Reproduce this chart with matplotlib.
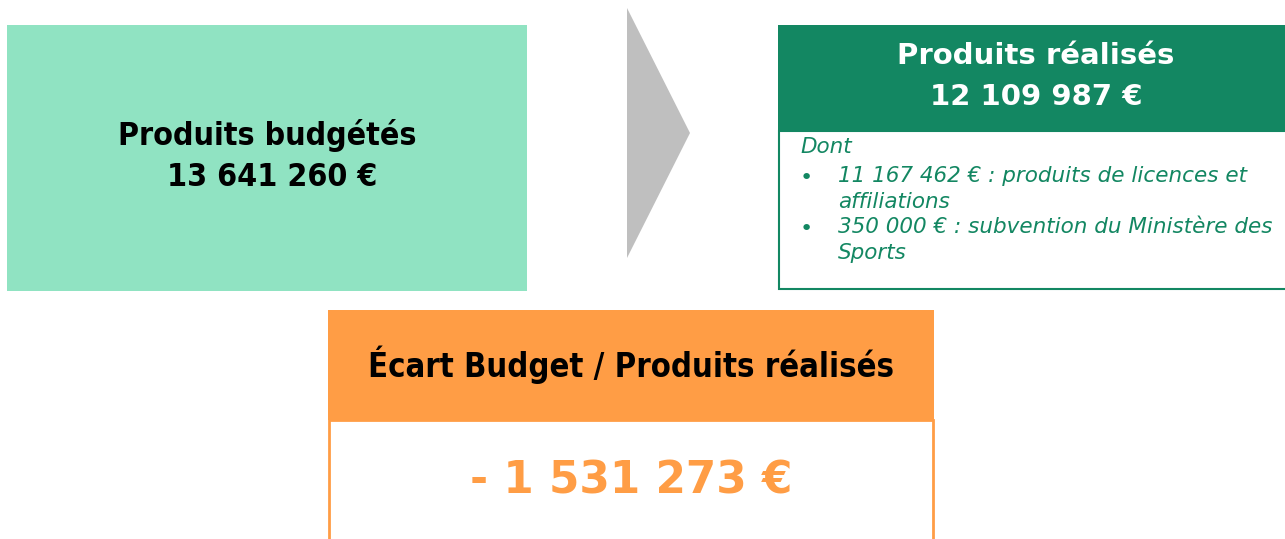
import matplotlib
matplotlib.use("Agg")
import matplotlib.pyplot as plt
from matplotlib.patches import Rectangle, Polygon

# texts / values
budget_label = "Produits budgétés"
budget_value = "13 641 260 €"
realise_label = "Produits réalisés"
realise_value = "12 109 987 €"
detail_intro = "Dont"
detail_items = ["11 167 462 € : produits de licences et\naffiliations",
                "350 000 € : subvention du Ministère des\nSports"]
ecart_label = "Écart Budget / Produits réalisés"
ecart_value = "- 1 531 273 €"

c_light = "#90E3C2"
c_green = "#138762"
c_orange = "#FF9D45"
c_grey = "#BFBFBF"

plt.rcParams['font.family'] = ['DejaVu Sans']

fig = plt.figure(figsize=(12.85, 5.39), dpi=100)
ax = fig.add_axes([0, 0, 1, 1])
ax.set_xlim(0, 1285)
ax.set_ylim(539, 0)
ax.axis("off")

# left box
ax.add_patch(Rectangle((7, 25), 520, 266, facecolor=c_light, edgecolor="none"))
ax.text(267, 136, budget_label, ha="center", va="center", fontsize=23, fontweight="bold",
        fontstretch="condensed")
ax.text(272, 178, budget_value, ha="center", va="center", fontsize=23, fontweight="bold",
        fontstretch="condensed")

# arrow
ax.add_patch(Polygon([(627, 8), (690, 133), (627, 258)], closed=True, facecolor=c_grey, edgecolor="none"))

# right box
ax.add_patch(Rectangle((779, 131), 520, 158, facecolor="white", edgecolor=c_green, linewidth=1.5))
ax.add_patch(Rectangle((778, 25), 520, 106, facecolor=c_green, edgecolor="none"))
ax.text(1036, 56, realise_label, ha="center", va="center", fontsize=21, fontweight="bold", color="white")
ax.text(1036, 97, realise_value, ha="center", va="center", fontsize=21, fontweight="bold", color="white")

ax.text(800, 147, detail_intro, ha="left", va="center", fontsize=15.5, style="italic", color=c_green)
y = 166
for item in detail_items:
    ax.text(806, y + 12, "•", ha="center", va="center", fontsize=16, color=c_green)
    ax.text(838, y, item, ha="left", va="top", fontsize=15.5, style="italic", color=c_green,
            linespacing=1.35)
    y += 51

# bottom box
ax.add_patch(Rectangle((329, 420), 604, 130, facecolor="white", edgecolor=c_orange, linewidth=2))
ax.add_patch(Rectangle((328, 310), 606, 110, facecolor=c_orange, edgecolor="none"))
ax.text(631, 365, ecart_label, ha="center", va="center", fontsize=23.5, fontweight="bold",
        fontstretch="condensed")
ax.text(631, 481, ecart_value, ha="center", va="center", fontsize=31.5, fontweight="bold",
        color=c_orange)

fig.savefig("out.png", dpi=100)
